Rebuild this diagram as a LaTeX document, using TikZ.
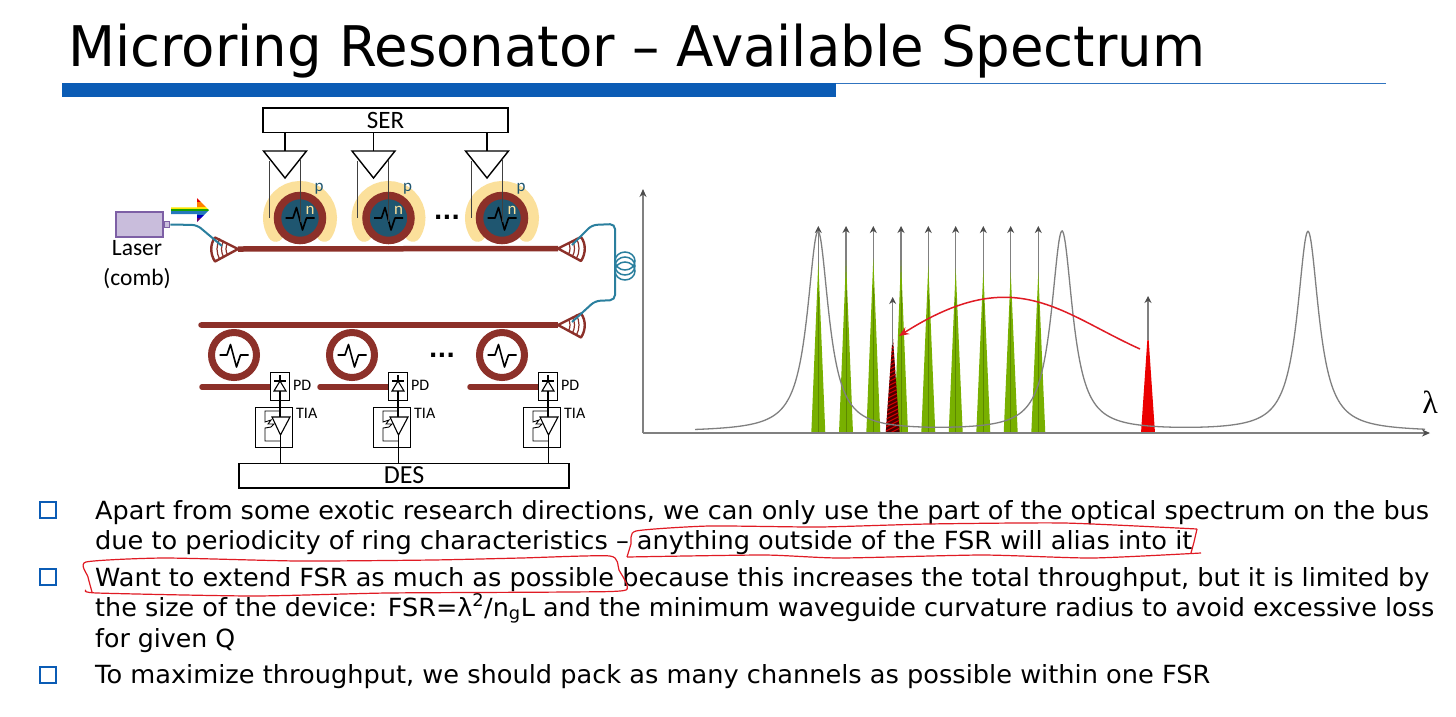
\documentclass[tikz,border=0pt]{standalone}
\usepackage{graphicx}
\usepackage{fontspec}
\setmainfont{DejaVu Sans}
\newfontfamily\lblfont{Carlito}
\newfontfamily\lamfont{Liberation Serif}
\usetikzlibrary{arrows.meta,calc,shapes.geometric}
\definecolor{wg}{HTML}{8C3029}
\definecolor{fib}{HTML}{2A7F9E}
\definecolor{core}{HTML}{1F5670}
\definecolor{halo}{HTML}{FBE09B}
\definecolor{barblue}{HTML}{0B5CB5}
\definecolor{grn}{HTML}{78B000}
\definecolor{ink}{HTML}{E01B24}
\tikzset{
 x=1pt,y=-1pt,
 blockbox/.style={draw=black,line width=1.5pt,fill=white,inner sep=0pt,font=\lblfont},
 elec/.style={draw=black,line width=1.1pt},
 drive/.style={draw=black,line width=1.4pt},
 thin lead/.style={draw=black!75,line width=1pt},
 guide/.style={draw=wg,line width=5.5pt,line cap=round},
 fibre/.style={draw=fib,line width=2pt,rounded corners=5pt},
 wave/.style={draw=black,line width=1.6pt},
 lbl/.style={font=\lblfont\fontsize{16}{16}\selectfont,inner sep=0pt},
 axisline/.style={draw=black!50,line width=1.2pt,-{Stealth[length=8pt,width=7pt,color=black!70]}},
 tone/.style={draw=black!50,line width=1.1pt,-{Stealth[length=7pt,width=7pt,color=black!70]}},
 markup/.style={draw=ink,line width=1.2pt},
 bulletbox/.style={draw=barblue,line width=2.2pt,fill=white,minimum size=16pt,inner sep=0pt},
 bodytext/.style={anchor=base west,inner sep=0pt},
 coil/.style={draw=fib,line width=1.5pt,ellipse,minimum width=20pt,minimum height=18pt,inner sep=0pt},
 dotrow/.style={inner sep=0pt,font=\bfseries\fontsize{23}{23}\selectfont},
}
\newcommand{\tline}[5]{\node[bodytext] (#1) at (95,#2) {\resizebox{#3pt}{\height}{\fontsize{#4}{#4}\selectfont #5}};}
\newcommand{\wavesym}[2]{\draw[wave,line join=round] (#1-14.5,#2) -- (#1-7,#2) -- (#1-3.5,#2-10.5) -- (#1+2.5,#2+12) -- (#1+6.5,#2) -- (#1+14.5,#2);}
\newcommand{\coupler}[3]{\begin{scope}[shift={(#1,#2)},xscale=#3]
 \draw[draw=wg,line width=2.4pt,line join=round,fill=white] (0,0) -- (-23,-11.5) .. controls (-28,-5) and (-28,5) .. (-23,12.5) -- cycle;
 \foreach \r in {12,16.5,21}{\draw[draw=wg,line width=1.2pt] (150:\r pt) arc[start angle=150,end angle=210,radius=\r pt];}
 \end{scope}}
\begin{document}
\begin{tikzpicture}
\useasboundingbox (0,0) rectangle (1456,716);
\fill[white] (0,0) rectangle (1456,716);
% header
\node[anchor=base west,inner sep=0pt] (title) at (68,66) {\resizebox{1137pt}{\height}{\fontsize{56}{56}\selectfont Microring Resonator – Available Spectrum}};
\fill[barblue] (62,83) rectangle (836,97);
\draw[draw=barblue!85!white,line width=1.6pt] (836,83.5) -- (1386,83.5);
% top: halos, rings
\foreach \n/\c in {1/300,2/388.5,3/502}{
 \draw[halo,line width=16pt,line cap=round] (\c,218) ++(-33:29pt) arc[start angle=-33,end angle=213,radius=29pt];
 \node[circle,draw=wg,line width=7.5pt,fill=core,minimum size=45pt,inner sep=0pt] (mod\n) at (\c,218) {};
 \wavesym{\c}{218}
 \node[lbl,text=halo,font=\lblfont\fontsize{17}{17}\selectfont] (n\n) at (\c+10,210) {n};
 \node[lbl,text=core,font=\lblfont\fontsize{17}{17}\selectfont] (p\n) at (\c+19,189) {p};
}
% SER
\node[blockbox,minimum width=245pt,minimum height=24.5pt,font=\lblfont\fontsize{25}{25}\selectfont] (ser) at (385.5,120) {SER};
\foreach \n/\c in {1/285,2/373.5,3/487}{
 \coordinate (drv\n) at (\c,151);
 \draw[drive] (ser.south -| drv\n) -- (drv\n);
 \draw[drive,fill=white,line join=miter] (\c-21.5,151) -- (\c+21.5,151) -- (\c,178) -- cycle;
 \draw[thin lead] (\c-16,161) -- (\c-16,218);
 \draw[thin lead] (\c+15,160) -- (\c+15,222);
}
\node[dotrow] (dotsA) at (447,217) {...};
% Laser
\node[draw={rgb,255:red,125;green,95;blue,165},fill={rgb,255:red,201;green,189;blue,220},line width=1.3pt,minimum width=47pt,minimum height=25pt,inner sep=0pt] (laser) at (139.5,224.5) {};
\node[draw={rgb,255:red,125;green,95;blue,165},fill={rgb,255:red,201;green,189;blue,220},line width=1.2pt,minimum size=5.5pt,inner sep=0pt,anchor=west] (port) at (laser.east) {};
\node[lbl,font=\lblfont\fontsize{23.5}{23.5}\selectfont,align=center] (lasertxt) at (137,265) {Laser\\[6.5pt](comb)};
% rainbow arrow
\begin{scope}
 \clip (171,207.3) -- (197,207.3) -- (197,198) -- (209,210) -- (197,222) -- (197,214) -- (171,214) -- cycle;
 \fill[red!90!black] (165,197) rectangle (212,202);
 \fill[orange] (165,202) rectangle (212,206.5);
 \fill[yellow!90!orange] (165,206.5) rectangle (212,209.3);
 \fill[green!60!black!90!yellow] (165,209.3) rectangle (212,211.3);
 \fill[cyan!60!blue!90!black] (165,211.3) rectangle (212,214.5);
 \fill[blue!75!black] (165,214.5) rectangle (212,217.5);
 \fill[violet!85!black] (165,217.5) rectangle (212,223);
\end{scope}
% bus waveguides
\coordinate (cplTL) at (238,249);
\coordinate (cplTR) at (558,248.5);
\coordinate (cplBR) at (558,325);
\draw[guide,line cap=butt] (cplTL) -- (cplTR);
\draw[guide,line cap=butt] (201,325) -- (cplBR);
\fill[wg] (201,325) circle[radius=2.75pt];
\coupler{238}{249}{1}
\coupler{558}{248.5}{-1}
\coupler{558}{325}{-1}
% fibres
\draw[fibre] (port.east) -- (197,225) -- (222,246);
\draw[fibre] (572,245) -- (592,225) -- (615,224) -- (615,300) -- (595,301) -- (572,322);
\node[coil] at (625,261) {};
\node[coil] at (625,266) {};
\node[coil] at (625,271) {};
% receivers
\foreach \n/\rc/\c/\wl in {1/234/280/202,2/352/398/320,3/502/548/470}{
 \node[circle,draw=wg,line width=7pt,fill=white,minimum size=45pt,inner sep=0pt] (rx\n) at (\rc,355) {};
 \wavesym{\rc}{355}
 \coordinate (drop\n) at (\c-10,387);
 \draw[guide] (\wl,387) -- (drop\n);
 \node[draw=black,line width=1pt,fill=white,minimum width=19.5pt,minimum height=28pt,inner sep=0pt] (pd\n) at (\c,386) {};
 \node[lbl,anchor=west] (pdt\n) at (\c+13,385.5) {PD};
 \node[draw=black,line width=1pt,fill=white,minimum width=36.5pt,minimum height=40pt,inner sep=0pt] (tia\n) at (\c-6,427) {};
 \node[lbl,anchor=west] (tiat\n) at (\c+16,413.5) {TIA};
 \draw[elec] (\c,375) -- (\c,417);
 \draw[elec] (\c-6,381) -- (\c+6,381);
 \draw[elec,fill=white] (\c,381) -- (\c-6,391) -- (\c+6,391) -- cycle;
 \draw[elec] (\c,391) -- (\c,398);
 \draw[elec,line join=miter,fill=white] (\c-8,417) -- (\c+10,417) -- (\c+.5,435) -- cycle;
 \draw[elec,line width=.9pt] (\c,411) -- (\c-15,411) -- (\c-15,422) -- (\c-9,420) -- (\c-12,424) -- (\c-6,424) -- (\c-9,427) -- (\c-15,428) -- (\c-15,441) -- (\c,441);
 \draw[elec] (\c+.5,435) -- (\c+.5,463);
}
\node[dotrow] (dotsB) at (442,355) {...};
\node[blockbox,minimum width=330pt,minimum height=24.5pt,font=\lblfont\fontsize{26}{26}\selectfont] (des) at (404,475.5) {DES};
% chart
\coordinate (orig) at (643,433);
\coordinate (ytop) at (643,189);
\coordinate (xend) at (1430,433);
\foreach \n/\c/\ap in {1/818.3/262,2/846/260,3/873.3/258,4/901/260,5/928.3/265,6/955.7/268,7/983.3/270,8/1010.7/272,9/1038.3/272}{
 \coordinate (t\n) at (\c,226);
 \draw[tone] (\c,433) -- (t\n);
 \fill[grn] (\c-7,433) -- (\c,\ap) -- (\c+7,433) -- cycle;
 \draw[draw=black,opacity=.22,line width=.8pt] (\c,433) -- (\c,\ap+30);
}
\begin{scope}
 \clip (885.7,433) -- (892.7,335) -- (899.7,433) -- cycle;
 \fill[black!70!red] (880,330) rectangle (905,435);
 \foreach \yy in {340,344,...,440}{\draw[red!85!black,line width=1pt] (884,\yy) -- (902,\yy-9);}
\end{scope}
\coordinate (tA) at (892.7,297);
\draw[tone] (892.7,345) -- (tA);
\fill[red!92!black] (1141,433) -- (1148,330) -- (1155,433) -- cycle;
\coordinate (tB) at (1148,296);
\draw[tone] (1148,340) -- (tB);
\draw[draw=black!50,line width=1.3pt] plot[domain=695:1425,samples=500,smooth] (\x,{432-200*(1/(1+((\x-818)/13)^2)+1/(1+((\x-1062)/13)^2)+1/(1+((\x-1308)/13)^2))});
\draw[axisline] (orig) -- (ytop);
\draw[axisline] (orig) -- (xend);
\coordinate (aliasA) at (1140,349);
\coordinate (aliasB) at (899,336);
\draw[draw=ink,line width=1.5pt,-{Stealth[length=10pt,width=8pt]}] (aliasA) .. controls (1060,313) and (1015,262) .. (aliasB);
\node[inner sep=0pt,font=\lamfont\fontsize{32}{32}\selectfont] (lam) at (1430,402) {λ};
% bullets
\node[bulletbox] (b1) at (48,510) {};
\node[bulletbox] (b2) at (48,577) {};
\node[bulletbox] (b3) at (48,675) {};
\tline{l1}{519}{1334}{25}{Apart from some exotic research directions, we can only use the part of the optical spectrum on the bus}
\tline{l2}{549}{1097}{25}{due to periodicity of ring characteristics – anything outside of the FSR will alias into it}
\tline{l3}{586}{1334}{25}{Want to extend FSR as much as possible because this increases the total throughput, but it is limited by}
\tline{l4}{616}{1339}{25}{the size of the device: FSR=λ\textsuperscript{2}/n\textsubscript{g}L and the minimum waveguide curvature radius to avoid excessive loss}
\tline{l5}{647}{140}{25}{for given Q}
\tline{l6}{683}{1115}{25}{To maximize throughput, we should pack as many channels as possible within one FSR}
% markups
\draw[markup] plot[smooth,tension=.35] coordinates {(627,557) (631,544) (636,531) (709,526) (819,527) (928,524) (1064,523) (1197,529)};
\draw[markup] (1197,529) -- (1194,542) -- (1191,553);
\draw[markup] plot[smooth,tension=.35] coordinates {(1201,553) (1092,558) (982,555) (840,558) (764,555) (627,557)};
\draw[markup] plot[smooth,tension=.35] coordinates {(86,590) (97,593) (253,596) (387,593) (566,592) (626,590) (619,570) (610,556) (521,558) (432,560) (298,561) (164,558) (86,562) (88,577) (92,592)};
\end{tikzpicture}
\end{document}
